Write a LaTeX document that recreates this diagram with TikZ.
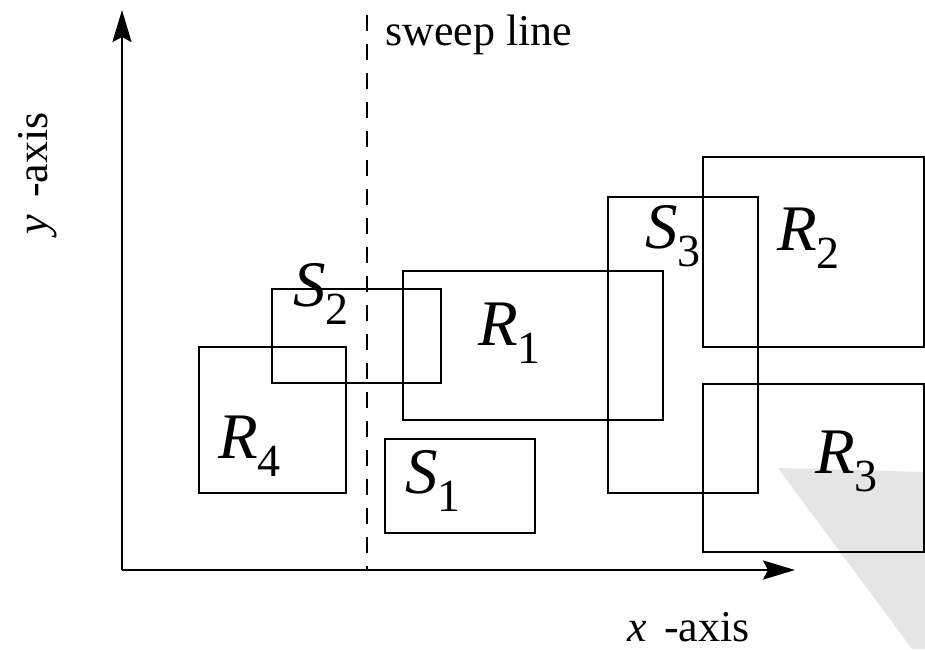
\documentclass[tikz,border=0pt]{standalone}
\usepackage{fontspec}
\setmainfont{Liberation Serif}
\usepackage{tikz}
\usetikzlibrary{arrows.meta}

\tikzset{
  box/.style={draw=black, line width=2.8pt},
  axis/.style={draw=black, line width=2.8pt, -{Stealth[length=32pt,width=19pt,inset=5pt]}},
  sweep/.style={draw=black, line width=2.6pt, dash pattern=on 16pt off 13pt},
  rlbl/.style={anchor=base west, inner sep=0pt, font=\fontsize{65}{70}\selectfont},
  txt/.style={anchor=base west, inner sep=0pt, font=\fontsize{44}{50}\selectfont}
}
% letter with lowered subscript
\newcommand{\rsub}[2]{\textit{#1}\raisebox{-18pt}{\fontsize{46}{46}\selectfont #2}}

\begin{document}
\begin{tikzpicture}[x=1pt, y=-1pt]
\useasboundingbox (0,0) rectangle (925,649);

% Grey band
\fill[black!10] (778,468) -- (925,472) -- (925,649) -- (912,649) -- cycle;

% Rectangles
\draw[box] (199,347) rectangle (346,493); % R4
\draw[box] (272,289) rectangle (441,383); % S2
\draw[box] (403,271) rectangle (663,420); % R1
\draw[box] (385,439) rectangle (535,533); % S1
\draw[box] (608,197) rectangle (758,493); % S3
\draw[box] (703,157) rectangle (924,347); % R2
\draw[box] (703,384) rectangle (924,552); % R3

% Labels
\node[rlbl] (r4) at (218,458) {\rsub{R}{4}};
\node[rlbl] (s2) at (293,306) {\rsub{S}{2}};
\node[rlbl] (r1) at (478,345) {\rsub{R}{1}};
\node[rlbl] (s1) at (405,493) {\rsub{S}{1}};
\node[rlbl] (s3) at (645,248) {\rsub{S}{3}};
\node[rlbl] (r2) at (777,250) {\rsub{R}{2}};
\node[rlbl] (r3) at (815,473) {\rsub{R}{3}};

% Axes
\coordinate (o) at (122,570);
\coordinate (ytip) at (122,10);
\coordinate (xtip) at (795,570);
\draw[axis] (o) -- (ytip);
\draw[axis] (o) -- (xtip);
\node[txt] (xlab) at (627,641) {\textit{x}\hspace{0.4em}-axis};
\node[txt, rotate=90] (ylab) at (47,235) {\textit{y}\hspace{0.4em}-axis};

% Sweep line
\coordinate (stop) at (367,15);
\coordinate (sbot) at (367,570);
\draw[sweep] (stop) -- (sbot);
\node[txt] (slab) at (385,45) {sweep line};
\end{tikzpicture}
\end{document}
